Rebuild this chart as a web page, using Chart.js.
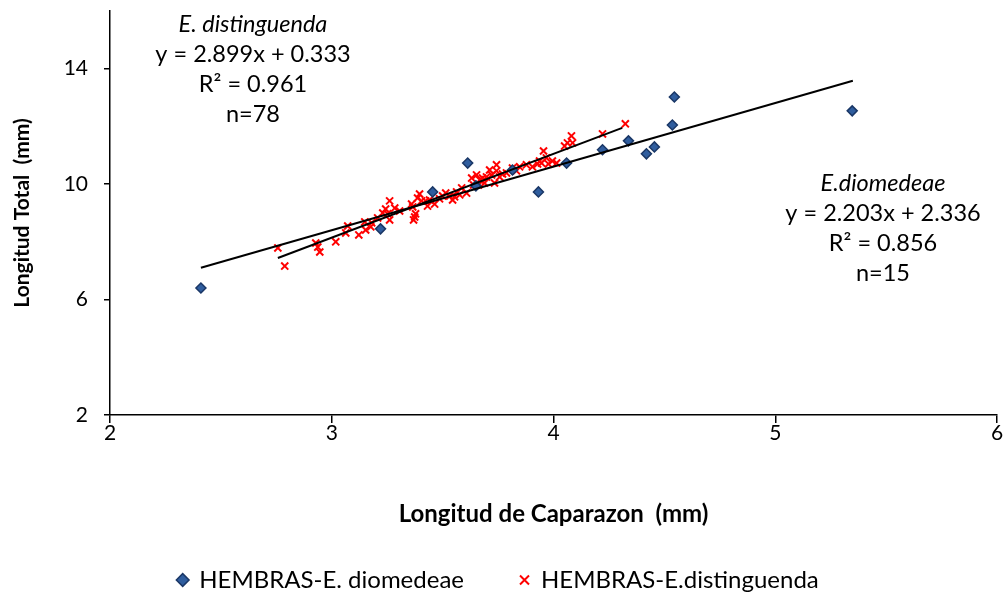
<!DOCTYPE html>
<html>
<head>
<meta charset="utf-8">
<script src="https://cdn.jsdelivr.net/npm/chart.js@4"></script>
<style>
  html, body { margin: 0; padding: 0; background: #fff; }
  #wrap { width: 1008px; height: 597px; }
</style>
</head>
<body>
<div id="wrap"><canvas id="myChart"></canvas></div>
<script>
// HEMBRAS - E. diomedeae (n=15)
const diomX = [2.41, 3.22, 3.455, 3.613, 3.65, 3.815, 3.932, 4.059, 4.221, 4.338, 4.419, 4.455, 4.536, 4.545, 5.347];
const diomY = [6.40, 8.45, 9.73, 10.73, 9.94, 10.49, 9.73, 10.73, 11.19, 11.50, 11.05, 11.29, 12.05, 13.02, 12.54];

// HEMBRAS - E. distinguenda (n=78)
const distX = [2.757, 2.788, 2.928, 2.937, 2.946, 3.018, 3.072, 3.122, 3.149, 3.176,
               3.180, 3.230, 3.261, 3.261, 3.252, 3.243, 3.360, 3.374, 3.378, 3.369,
               3.396, 3.405, 3.423, 3.441, 3.387, 3.464, 3.486, 3.514, 3.532, 3.563,
               3.577, 3.554, 3.608, 3.653, 3.662, 3.680, 3.698, 3.721, 3.734, 3.743,
               3.757, 3.788, 3.847, 3.878, 3.905, 3.946, 3.968, 3.955, 3.995, 4.014,
               4.063, 4.086, 4.081, 4.221, 4.324, 3.640, 3.689, 3.712, 3.770, 3.815,
               3.928, 3.977, 3.937, 4.050, 3.667, 3.631, 3.545, 3.500, 3.432, 3.365,
               3.306, 3.284, 3.207, 3.153, 3.586, 3.743, 3.833, 3.063];
const distY = [7.79, 7.16, 7.96, 7.82, 7.65, 8.00, 8.55, 8.24, 8.69, 8.52,
               8.66, 9.00, 8.76, 9.42, 8.97, 9.14, 9.31, 8.86, 8.97, 8.76,
               9.66, 9.42, 9.42, 9.45, 9.52, 9.31, 9.49, 9.69, 9.59, 9.73,
               9.63, 9.56, 9.69, 10.32, 9.97, 10.21, 10.25, 10.32, 10.04, 10.67,
               10.25, 10.39, 10.60, 10.67, 10.60, 10.73, 10.91, 11.15, 10.80, 10.73,
               11.43, 11.43, 11.67, 11.74, 12.09, 9.97, 10.04, 10.49, 10.35, 10.56,
               10.70, 10.70, 10.80, 11.32, 10.15, 10.21, 9.45, 9.59, 9.24, 9.21,
               9.07, 9.17, 8.83, 8.41, 9.87, 10.46, 10.46, 8.31];

// trend line ends as drawn in the picture
const diomTrendX = [2.41, 5.35];
const diomTrendY = [7.10, 13.58];
const distTrendX = [2.757, 4.31];
const distTrendY = [7.44, 11.95];

const xTicks = [2, 3, 4, 5, 6];
const yTicks = [2, 6, 10, 14];

const distNote = ['E. distinguenda', 'y = 2.899x + 0.333', 'R\u00B2 = 0.961', 'n=78'];
const diomNote = ['E.diomedeae', 'y = 2.203x + 2.336', 'R\u00B2 = 0.856', 'n=15'];

const FONT = 'Lato, "Open Sans", sans-serif';

const pts = (xs, ys) => xs.map((x, i) => ({ x: x, y: ys[i] }));

// writes the equation boxes
const notesPlugin = {
  id: 'notes',
  afterDraw(chart) {
    const ctx = chart.ctx;
    const drawBlock = (lines, cx, y0, step) => {
      ctx.save();
      ctx.fillStyle = '#000';
      ctx.textAlign = 'center';
      ctx.textBaseline = 'middle';
      lines.forEach((t, i) => {
        ctx.font = (i === 0 ? 'italic ' : '') + '23.5px ' + FONT;
        ctx.fillText(t, cx, y0 + i * step);
      });
      ctx.restore();
    };
    drawBlock(distNote, 253, 24, 30);
    drawBlock(diomNote, 883, 183, 30);
  }
};

const data = {
  datasets: [
    {
      label: 'HEMBRAS-E. diomedeae',
      data: pts(diomX, diomY),
      pointStyle: 'rectRot',
      pointRadius: 5,
      pointBackgroundColor: '#2f5d9e',
      pointBorderColor: '#1a3766',
      backgroundColor: '#2f5d9e',
      borderColor: '#1a3766',
      pointBorderWidth: 1.5,
      order: 1
    },
    {
      label: 'HEMBRAS-E.distinguenda',
      data: pts(distX, distY),
      pointStyle: 'crossRot',
      pointRadius: 5,
      pointBorderColor: '#ff0000',
      borderColor: '#ff0000',
      backgroundColor: '#ff0000',
      pointBorderWidth: 2,
      order: 1
    },
    {
      type: 'line',
      label: 'trend-diom',
      data: pts(diomTrendX, diomTrendY),
      borderColor: '#000',
      borderWidth: 2,
      pointRadius: 0,
      fill: false,
      order: 0
    },
    {
      type: 'line',
      label: 'trend-dist',
      data: pts(distTrendX, distTrendY),
      borderColor: '#000',
      borderWidth: 2,
      pointRadius: 0,
      fill: false,
      order: 0
    }
  ]
};

const config = {
  type: 'scatter',
  data: data,
  plugins: [notesPlugin],
  options: {
    responsive: true,
    maintainAspectRatio: false,
    animation: false,
    layout: { padding: { left: 0, right: 11, top: 11, bottom: -5 } },
    plugins: {
      tooltip: { enabled: false },
      legend: {
        position: 'bottom',
        labels: {
          usePointStyle: true,
          boxWidth: 9,
          boxHeight: 9,
          padding: 2,
          color: '#000',
          font: { family: FONT, size: 24 },
          filter: item => item.text.indexOf('trend') !== 0,
          sort: (a, b) => a.datasetIndex - b.datasetIndex,
          generateLabels: chart => {
            const items = Chart.defaults.plugins.legend.labels.generateLabels(chart);
            // gap after the first entry, as in the original legend
            items.forEach(it => { if (it.datasetIndex === 0) it.text += '\u2003\u2003\u2003'; });
            return items;
          }
        }
      }
    },
    scales: {
      x: {
        type: 'linear',
        min: 2,
        max: 6,
        afterBuildTicks: s => { s.ticks = xTicks.map(v => ({ value: v })); },
        afterFit: s => { s.height = 151; },
        border: { display: true, color: '#000', width: 1.5 },
        grid: { drawOnChartArea: false, drawTicks: true, tickLength: 8, color: '#000', lineWidth: 1.5 },
        ticks: { color: '#000', padding: -2, font: { family: FONT, size: 21 } },
        title: {
          display: true,
          text: 'Longitud de Caparazon  (mm)',
          color: '#000',
          font: { family: FONT, size: 24, weight: 'bold' },
          padding: { top: 0, bottom: 37 }
        }
      },
      y: {
        type: 'linear',
        min: 2,
        max: 16,
        afterBuildTicks: s => { s.ticks = yTicks.map(v => ({ value: v })); },
        afterFit: s => { s.width = 110; s.paddingTop = 0; s.paddingBottom = 0; },
        border: { display: true, color: '#000', width: 1.5 },
        grid: { drawOnChartArea: false, drawTicks: true, tickLength: 6, color: '#000', lineWidth: 1.5 },
        ticks: { color: '#000', padding: 16, font: { family: FONT, size: 21 } },
        title: {
          display: true,
          text: 'Longitud Total  (mm)',
          color: '#000',
          font: { family: FONT, size: 21, weight: 'bold' },
          padding: { top: 10, bottom: 0 }
        }
      }
    }
  }
};

const chart = new Chart(document.getElementById('myChart'), config);
</script>
</body>
</html>
